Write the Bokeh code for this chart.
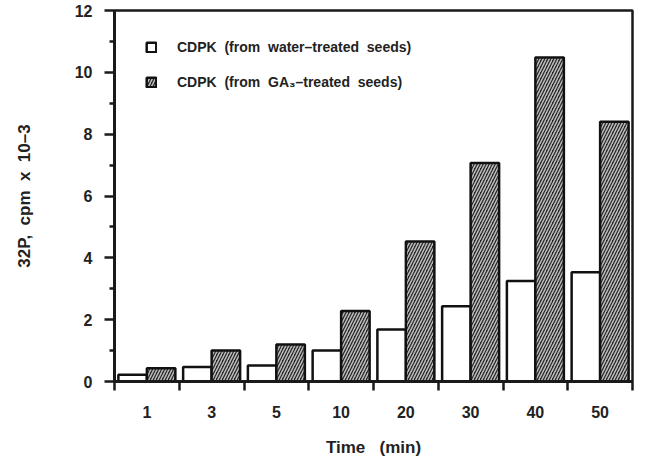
from bokeh.plotting import figure
from bokeh.models import Range1d, FixedTicker, Legend, LegendItem, ColumnDataSource
from bokeh.embed import file_html
from bokeh.resources import INLINE

# ---- data ----
times = ["1", "3", "5", "10", "20", "30", "40", "50"]
water = [0.22, 0.47, 0.52, 1.0, 1.68, 2.43, 3.25, 3.53]
ga3 = [0.43, 1.0, 1.2, 2.28, 4.53, 7.07, 10.48, 8.4]
y_ticks = [0, 2, 4, 6, 8, 10, 12]
y_minor = [1, 3, 5, 7, 9, 11]
label_water = "CDPK\u00a0 (from\u00a0 water\u2013treated\u00a0 seeds)"
label_ga = "CDPK\u00a0 (from\u00a0 GA\u2083\u2013treated\u00a0 seeds)"
x_title = "Time\u00a0 \u00a0(min)"
y_title = "32P,\u00a0 cpm\u00a0 x\u00a0 10\u20133"

n = len(times)
centers = [i + 0.5 for i in range(n)]
bar_w = 0.44
src = ColumnDataSource(dict(
    xw=[c - 0.22 for c in centers],
    xg=[c + 0.22 for c in centers],
    water=water, ga3=ga3))

FONT = "Liberation Sans"
INK = "#1a1a1a"

p = figure(frame_width=518, frame_height=371, output_backend="svg",
           toolbar_location=None,
           x_range=Range1d(0, n), y_range=Range1d(0, 12))
p.min_border_left = 114
p.min_border_right = 2
p.min_border_top = 10
p.min_border_bottom = 0
p.background_fill_color = "white"
p.border_fill_color = "white"
p.grid.visible = False
p.outline_line_color = INK
p.outline_line_width = 2.5

r1 = p.vbar(x="xw", top="water", width=bar_w, bottom=0, source=src,
            fill_color="white", line_color="#111111", line_width=2.5)
r2 = p.vbar(x="xg", top="ga3", width=bar_w, bottom=0, source=src,
            fill_color="#262626", line_color="#111111", line_width=2.5,
            hatch_pattern="/", hatch_color="#bdbdbd", hatch_scale=6,
            hatch_weight=1.5)

# x axis: labels at category centers, ticks at category boundaries
xa = p.xaxis[0]
xa.ticker = FixedTicker(ticks=centers, minor_ticks=[float(i) for i in range(n + 1)])
xa.major_label_overrides = {c: t for c, t in zip(centers, times)}
xa.major_tick_line_color = None
xa.major_tick_out = 0
xa.major_tick_in = 0
xa.minor_tick_out = 9
xa.minor_tick_in = 0
xa.minor_tick_line_width = 2.5
xa.minor_tick_line_color = INK
xa.axis_line_width = 3
xa.axis_line_color = INK
xa.major_label_standoff = 15
xa.major_label_text_font = FONT
xa.major_label_text_font_style = "bold"
xa.major_label_text_font_size = "16px"
xa.major_label_text_color = "#222222"
xa.axis_label = x_title
xa.axis_label_standoff = 17
xa.axis_label_text_font = FONT
xa.axis_label_text_font_style = "bold"
xa.axis_label_text_font_size = "17px"
xa.axis_label_text_color = "#222222"

ya = p.yaxis[0]
ya.ticker = FixedTicker(ticks=y_ticks, minor_ticks=y_minor)
ya.major_tick_out = 10
ya.major_tick_in = 0
ya.minor_tick_out = 5
ya.minor_tick_in = 0
ya.major_tick_line_width = 2.5
ya.minor_tick_line_width = 2.5
ya.major_tick_line_color = INK
ya.minor_tick_line_color = INK
ya.axis_line_width = 3
ya.axis_line_color = INK
ya.major_label_standoff = 12
ya.major_label_text_font = FONT
ya.major_label_text_font_style = "bold"
ya.major_label_text_font_size = "16px"
ya.major_label_text_color = "#222222"
ya.axis_label = y_title
ya.axis_label_standoff = 38
ya.axis_label_text_font = FONT
ya.axis_label_text_font_style = "bold"
ya.axis_label_text_font_size = "17px"
ya.axis_label_text_color = "#222222"

legend = Legend(items=[LegendItem(label=label_water, renderers=[r1]),
                       LegendItem(label=label_ga, renderers=[r2])],
                location=(31, 289), orientation="vertical",
                glyph_width=12, glyph_height=12, label_height=20,
                label_standoff=20, spacing=15, padding=0, margin=0,
                border_line_color=None, background_fill_alpha=0,
                label_text_font=FONT, label_text_font_style="bold",
                label_text_font_size="14px", label_text_color="#222222")
p.add_layout(legend)

open("out.html", "w").write(file_html(p, INLINE))
